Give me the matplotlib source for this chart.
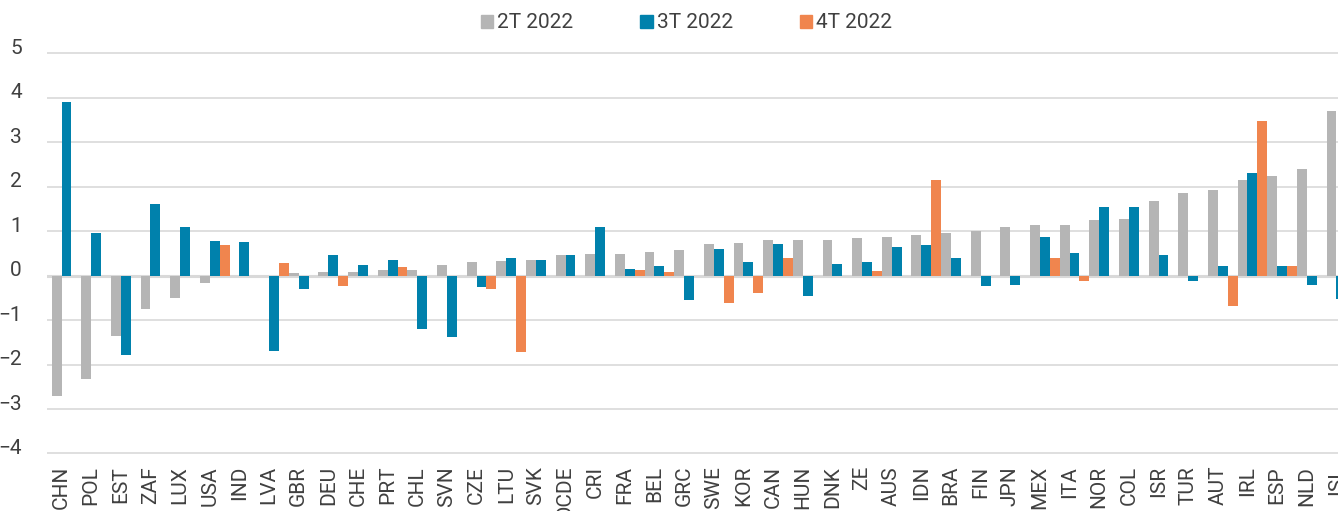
import numpy as np
import matplotlib.pyplot as plt
from matplotlib.patches import Patch
from matplotlib.transforms import ScaledTranslation

plt.rcParams['font.family'] = ['Roboto', 'DejaVu Sans']

countries = ['CHN', 'POL', 'EST', 'ZAF', 'LUX', 'USA', 'IND', 'LVA', 'GBR', 'DEU', 'CHE',
             'PRT', 'CHL', 'SVN', 'CZE', 'LTU', 'SVK', 'OCDE', 'CRI', 'FRA', 'BEL', 'GRC',
             'SWE', 'KOR', 'CAN', 'HUN', 'DNK', 'ZE', 'AUS', 'IDN', 'BRA', 'FIN', 'JPN',
             'MEX', 'ITA', 'NOR', 'COL', 'ISR', 'TUR', 'AUT', 'IRL', 'ESP', 'NLD', 'ISL']

t2_2022 = [-2.70, -2.33, -1.35, -0.75, -0.50, -0.16, 0.0, 0.0, 0.05, 0.09, 0.09,
           0.12, 0.13, 0.24, 0.30, 0.33, 0.36, 0.47, 0.49, 0.49, 0.53, 0.58,
           0.72, 0.73, 0.80, 0.81, 0.81, 0.84, 0.87, 0.91, 0.97, 1.00, 1.09,
           1.14, 1.14, 1.26, 1.27, 1.68, 1.87, 1.93, 2.16, 2.24, 2.40, 3.70]

t3_2022 = [3.90, 0.95, -1.79, 1.61, 1.09, 0.79, 0.75, -1.70, -0.31, 0.46, 0.24,
           0.35, -1.19, -1.37, -0.25, 0.40, 0.36, 0.46, 1.10, 0.15, 0.21, -0.55,
           0.59, 0.31, 0.72, -0.45, 0.26, 0.30, 0.64, 0.69, 0.39, -0.24, -0.21,
           0.88, 0.50, 1.54, 1.55, 0.47, -0.12, 0.21, 2.31, 0.21, -0.22, -0.52]

t4_2022 = [0.0, 0.0, 0.0, 0.0, 0.0, 0.70, 0.0, 0.28, 0.0, -0.24, 0.0,
           0.19, 0.0, 0.0, -0.31, -1.72, 0.0, 0.0, 0.0, 0.12, 0.09, 0.0,
           -0.61, -0.39, 0.40, 0.0, 0.0, 0.10, 0.0, 2.15, 0.0, 0.0, 0.0,
           0.40, -0.12, 0.0, 0.0, 0.0, 0.0, -0.69, 3.49, 0.22, 0.0, 0.0]

c_gray = '#b5b5b5'
c_blue = '#0081ac'
c_orange = '#f0854e'
txt = '#404040'
grid_c = '#d9d9d9'

fig = plt.figure(figsize=(13.38, 5.11), dpi=100)
ax = fig.add_axes([0.0349, 0.110, 0.975, 0.788])

x = np.arange(len(countries))
w = 1 / 3
ax.bar(x - w, t2_2022, w, align='edge', color=c_gray, label='2T 2022', zorder=3)
ax.bar(x, t3_2022, w, align='edge', color=c_blue, label='3T 2022', zorder=3)
ax.bar(x + w, t4_2022, w, align='edge', color=c_orange, label='4T 2022', zorder=3)

ax.set_xlim(-0.5, len(countries) - 0.5)
ax.set_ylim(-4.03, 5.03)
ax.set_yticks(range(-4, 6))
ax.grid(axis='y', color=grid_c, linewidth=1.2, zorder=0)
ax.axhline(0, color=grid_c, linewidth=2.2, zorder=2)
for s in ax.spines.values():
    s.set_visible(False)

ax.set_xticks(x)
ax.set_xticklabels(countries, rotation=90)
ax.tick_params(axis='x', length=0, pad=8, labelsize=15, labelcolor=txt)
ax.tick_params(axis='y', length=0, pad=18, labelsize=15, labelcolor=txt)
for lab in ax.get_yticklabels():
    lab.set_transform(lab.get_transform() + ScaledTranslation(0, 5 / 72, fig.dpi_scale_trans))

handles = [Patch(color=c_gray), Patch(color=c_blue), Patch(color=c_orange)]
fig.legend(handles, ['2T 2022', '3T 2022', '4T 2022'], loc='center',
           bbox_to_anchor=(0.513, 0.955), ncol=3, frameon=False, fontsize=15,
           handlelength=0.6, handleheight=0.6, handletextpad=0.2,
           columnspacing=3.2, labelcolor=txt)

fig.savefig('out.png', dpi=100)
